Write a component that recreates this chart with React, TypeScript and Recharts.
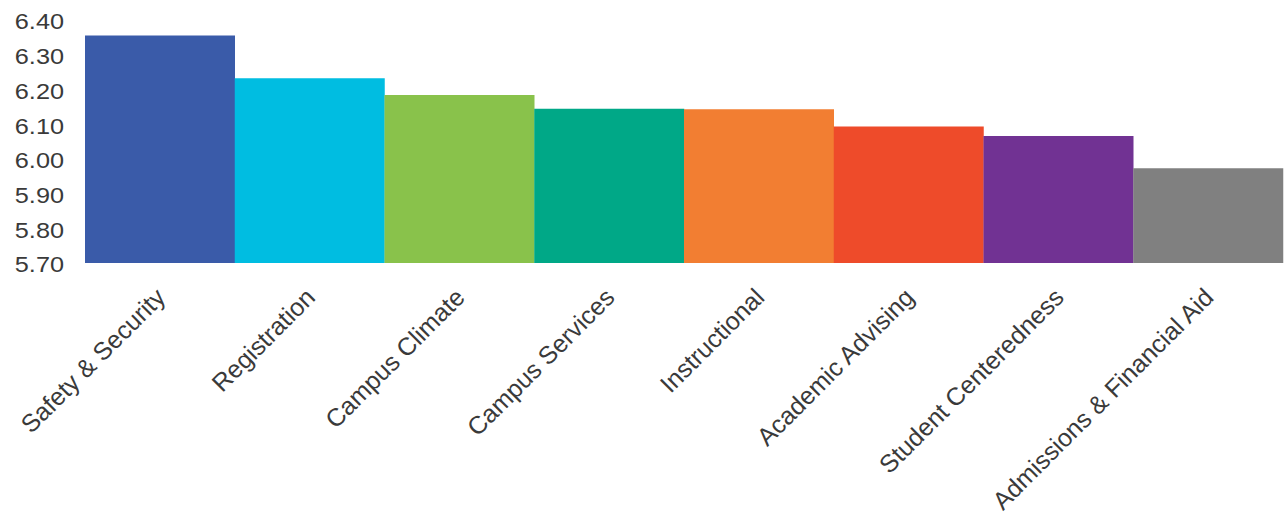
import React from 'react'
import { BarChart, Bar, XAxis, YAxis, Cell } from 'recharts'

const categories = [
  'Safety & Security',
  'Registration',
  'Campus Climate',
  'Campus Services',
  'Instructional',
  'Academic Advising',
  'Student Centeredness',
  'Admissions & Financial Aid'
]
const scores = [6.355, 6.232, 6.184, 6.144, 6.143, 6.093, 6.066, 5.973]
const barColors = ['#3A5BA9', '#00BDE1', '#89C24B', '#00A887', '#F27E32', '#EE4B2A', '#713293', '#808080']
const yTicks = [5.7, 5.8, 5.9, 6.0, 6.1, 6.2, 6.3, 6.4]

const data = categories.map((name, i) => ({ name, score: scores[i] }))

const font = 'Liberation Sans, Arial, sans-serif'

const YTick = (props: any) => {
  const { x, y, payload } = props
  return (
    <text
      x={0}
      y={0}
      transform={`translate(${x},${y + 2}) scale(1.15,1)`}
      textAnchor="end"
      dominantBaseline="central"
      fontSize={22}
      fontFamily={font}
      fill="#3a3a3a"
    >
      {payload.value.toFixed(2)}
    </text>
  )
}

const XTick = (props: any) => {
  const { x, y, payload } = props
  return (
    <g transform={`translate(${x + 7},${y + 28})`}>
      <text
        x={0}
        y={0}
        transform="rotate(-45)"
        textAnchor="end"
        fontSize={25}
        fontFamily={font}
        fill="#3a3a3a"
      >
        {payload.value}
      </text>
    </g>
  )
}

export default function App() {
  return (
    <div style={{ position: 'absolute', left: 0, top: 0, background: '#fff' }}>
      <BarChart
        width={1285}
        height={521}
        data={data}
        margin={{ top: 20, right: 2, left: 0, bottom: 0 }}
        barCategoryGap={0}
      >
        <XAxis
          dataKey="name"
          axisLine={false}
          tickLine={false}
          interval={0}
          height={258}
          tick={<XTick />}
        />
        <YAxis
          domain={[5.7, 6.4]}
          ticks={yTicks}
          axisLine={false}
          tickLine={false}
          width={85}
          tickMargin={15}
          tick={<YTick />}
        />
        <Bar dataKey="score" isAnimationActive={false}>
          {data.map((d, i) => (
            <Cell key={d.name} fill={barColors[i]} />
          ))}
        </Bar>
      </BarChart>
    </div>
  )
}
